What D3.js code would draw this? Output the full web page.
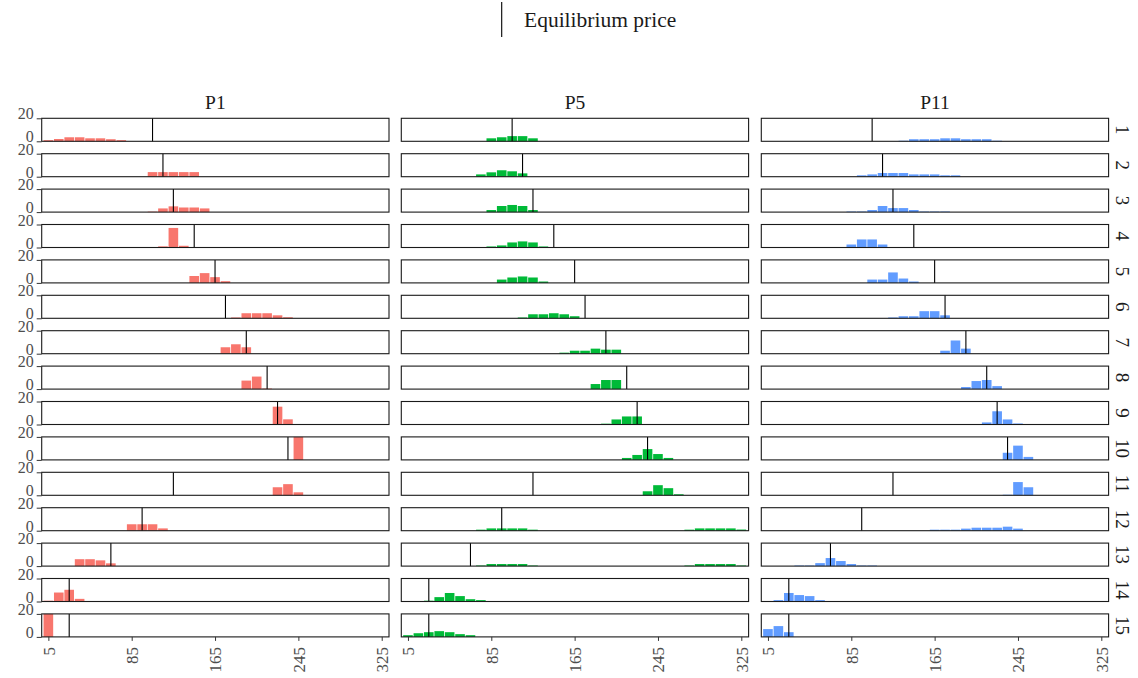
<!DOCTYPE html>
<html><head><meta charset="utf-8">
<script src="https://cdn.jsdelivr.net/npm/d3@7"></script>
<style>body{margin:0;background:#fff}svg{display:block}</style>
</head><body><svg id="c" width="1138" height="678"></svg>
<script>
// Price columns and rows (periods)
const columns = ["P1", "P5", "P11"];
const rows = d3.range(1, 16);
const colors = ["#F8766D", "#00BA38", "#619CFF"];
const binWidth = 10;
// Equilibrium price per row
const equilibrium = [105,115,125,145,165,175,195,215,225,235,125,95,65,25,25];
// Histogram counts per row: [first bin index (bin k = [10k,10k+10]), counts...]
const p1Counts = [
  [0, 1,2,3.5,3.5,2.6,2.6,1.8,1],
  [10, 4,4,4,4,4],
  [10, 0.4,3.2,5,4,4,3.2],
  [11, 1,17,1.5],
  [14, 6,8.5,5,1.5],
  [18, 0.7,4.4,4.4,4.4,2.6,0.9],
  [17, 5.6,8.2,5.6],
  [19, 7.4,10.9,0.5],
  [22, 15.5,4.5],
  [24, 20],
  [22, 7,9.7,2.6],
  [8, 5.6,5.6,5.6,2],
  [3, 6,6,5,2.4],
  [0, 0.7,7.8,10.2,2.3],
  [0, 20]
];
const p5Counts = [
  [8, 2.6,3.5,4.5,4.5,2.6],
  [7, 2,3.8,5.6,4.7,2.9],
  [8, 1.8,5.3,6.2,5.3,1.8],
  [8, 0.9,1.8,4.4,5.3,4.4,0.9],
  [9, 2.9,4.7,5.6,4.7,1.2],
  [11, 0.7,3.5,3.5,4.4,3.5,1.8],
  [15, 0.9,2.6,2.6,4.4,3.5,3.5],
  [18, 4.4,7.9,7.9],
  [19, 0.7,4.4,7,7],
  [21, 1.7,4.3,9.4,5.1,1.7],
  [23, 3.5,8.8,6.2,0.9],
  [7, 0.9,2,2,2,2,0.9, 0,0,0,0,0,0,0,0,0,0,0,0,0,0, 0.9,2,2,2,2,1],
  [7, 0.5,1.8,1.8,1.8,1.8,0.5, 0,0,0,0,0,0,0,0,0,0,0,0,0,0, 0.5,1.8,1.8,1.8,1.8,0.5],
  [2, 0.7,3.8,7.4,4.7,2,1.2],
  [0, 1.5,3.2,4.1,5,4.1,2.4,1.5]
];
const p11Counts = [
  [13, 0.5,1.8,1.8,1.8,2.6,2.6,1.8,1.8,1.8,0.5],
  [9, 1.2,2,3.2,3.2,3.2,2,2,2,1.2,1.2],
  [8, 0.5,0.5,1.8,5.3,3.5,3.5,1.8,0.5,0.5,0.5],
  [8, 2.6,7,7,2.6],
  [10, 2.9,2.9,9.1,3.8,1.2],
  [12, 0.7,1.8,1.8,6.2,6.2,2.6],
  [17, 2.6,11.5,4.4],
  [19, 1.8,7,7.9,2.6],
  [21, 1.8,11.5,4.4,0.9],
  [23, 6.2,12.4,2.6],
  [23, 0.5,11.5,7],
  [16, 0.9,0.9,0.9,1.8,2.6,2.6,2.6,3.5,1.8],
  [3, 0.5,0.5,2.6,7,4.4,1.8,0.5,0.5],
  [1, 1.2,7.4,5.6,4.7,1.2],
  [0, 6.8,9.4,4.1]
];
const xTicks = [5, 85, 165, 245, 325];
const yTicks = [0, 20];
const legendLabel = "Equilibrium price";

const allCounts = [p1Counts, p5Counts, p11Counts];
const font = "'Liberation Serif', 'DejaVu Serif', serif";
const svg = d3.select("#c");

const colLeft = [41.7, 401.3, 761.3], panelW = 347.3;
const rowTop0 = 118.3, rowPitch = 35.4, panelH = 23;

const x = d3.scaleLinear().domain([-1.4, 332]).range([0, panelW]);
const y = d3.scaleLinear().domain([0, 20]).range([panelH, 0]);

// Legend
const lg = svg.append("g");
lg.append("line").attr("x1", 501.7).attr("x2", 501.7).attr("y1", 2).attr("y2", 37)
  .attr("stroke", "#000").attr("stroke-width", 1.1);
lg.append("text").attr("x", 524).attr("y", 27).text(legendLabel)
  .attr("font-family", font).attr("font-size", 21.5).attr("fill", "#1a1a1a");

// Column strips
columns.forEach((c, ci) => {
  svg.append("text").attr("x", colLeft[ci] + panelW / 2).attr("y", 109)
    .attr("text-anchor", "middle").attr("font-family", font).attr("font-size", 19.5)
    .attr("fill", "#1a1a1a").text(c);
});

rows.forEach((r, ri) => {
  const top = rowTop0 + ri * rowPitch;
  // row strip label
  svg.append("text")
    .attr("transform", `translate(1116,${top + panelH / 2}) rotate(90)`)
    .attr("text-anchor", "middle").attr("font-family", font).attr("font-size", 19)
    .attr("fill", "#1a1a1a").text(r);

  columns.forEach((c, ci) => {
    const g = svg.append("g").attr("transform", `translate(${colLeft[ci]},${top})`);
    const row = allCounts[ci][ri];
    const start = row[0];
    const bins = row.slice(1).map((v, i) => ({lo: (start + i) * binWidth, v}))
      .filter(d => d.v > 0);
    g.selectAll("rect.bar").data(bins).enter().append("rect")
      .attr("x", d => x(d.lo) + 0.4)
      .attr("width", d => x(d.lo + binWidth) - x(d.lo) - 0.8)
      .attr("y", d => y(d.v))
      .attr("height", d => y(0) - y(d.v))
      .attr("fill", colors[ci]);
    // equilibrium line
    g.append("line").attr("x1", x(equilibrium[ri])).attr("x2", x(equilibrium[ri]))
      .attr("y1", 0).attr("y2", panelH).attr("stroke", "#000").attr("stroke-width", 1.1);
    // panel border
    g.append("rect").attr("x", 0).attr("y", 0).attr("width", panelW).attr("height", panelH)
      .attr("fill", "none").attr("stroke", "#1a1a1a").attr("stroke-width", 1.1);

    if (ci === 0) {
      const ya = g.append("g").call(d3.axisLeft(y).tickValues(yTicks).tickSize(5).tickPadding(3).tickFormat(d3.format("d")));
      ya.select(".domain").remove();
      ya.selectAll("line").attr("stroke", "#333");
      ya.selectAll("text").attr("font-family", font).attr("font-size", 16).attr("fill", "#4d4d4d")
        .attr("dy", "0").attr("y", 0.5);
    }
    if (ri === rows.length - 1) {
      const xa = g.append("g").attr("transform", `translate(0,${panelH})`)
        .call(d3.axisBottom(x).tickValues(xTicks).tickSize(4).tickFormat(d3.format("d")));
      xa.select(".domain").remove();
      xa.selectAll("line").attr("stroke", "#333");
      xa.selectAll("text").attr("font-family", font).attr("font-size", 17).attr("fill", "#4d4d4d")
        .attr("transform", "rotate(-90)").attr("text-anchor", "end")
        .attr("x", -10).attr("y", 0).attr("dy", "0.35em");
    }
  });
});
</script></body></html>
